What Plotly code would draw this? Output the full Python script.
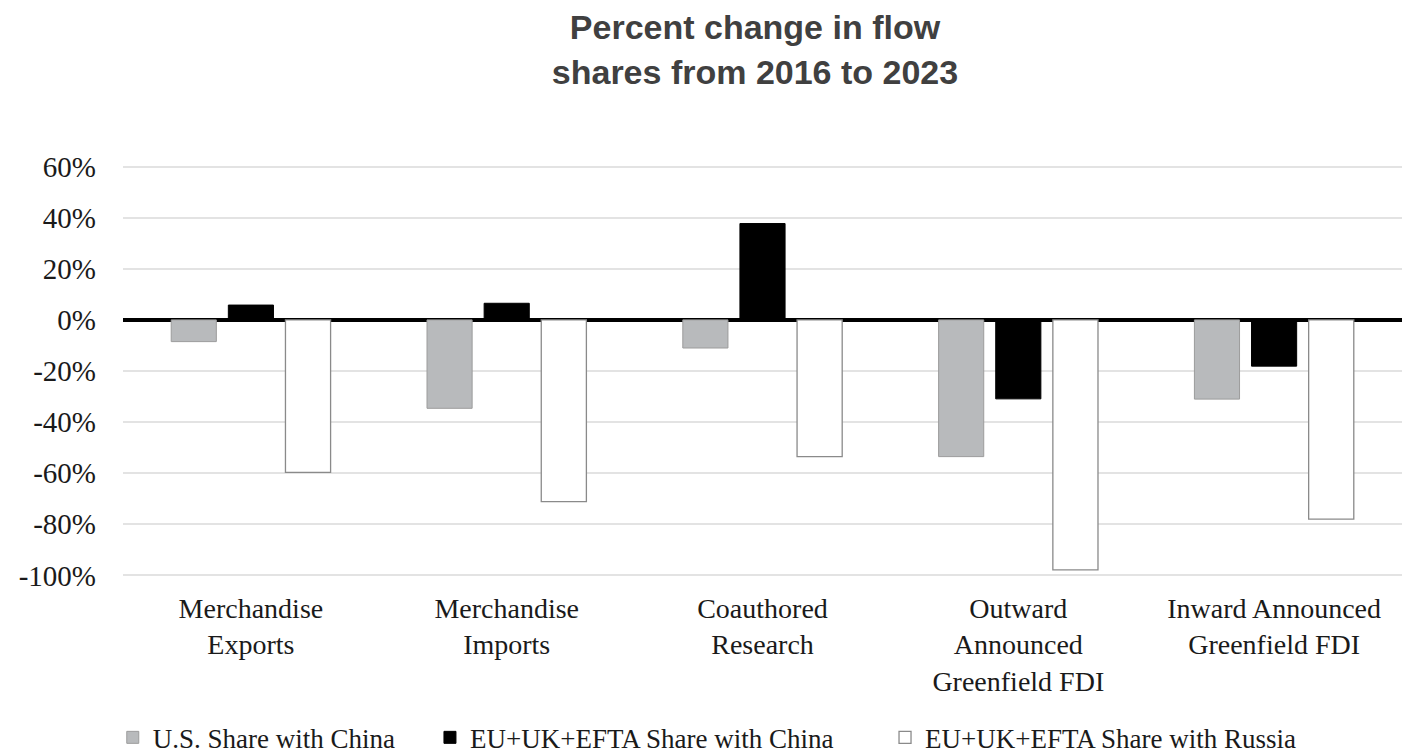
import plotly.graph_objects as go

categories = [
    "Merchandise<br>Exports",
    "Merchandise<br>Imports",
    "Coauthored<br>Research",
    "Outward<br>Announced<br>Greenfield FDI",
    "Inward Announced<br>Greenfield FDI",
]
us_china = [-8.5, -34.6, -11.0, -53.5, -31.0]
eu_china = [5.8, 6.5, 37.7, -30.9, -18.1]
eu_russia = [-59.7, -71.1, -53.5, -97.8, -78.0]
series_names = [
    "U.S. Share with China",
    "EU+UK+EFTA Share with China",
    "EU+UK+EFTA Share with Russia",
]
y_ticks = [-100, -80, -60, -40, -20, 0, 20, 40, 60]
y_ticktext = [f"{v}%" for v in y_ticks]

serif = "Liberation Serif, Times New Roman, serif"

fig = go.Figure()
fig.add_trace(go.Bar(
    x=categories, y=us_china, name=series_names[0],
    marker=dict(color="#b8babc", line=dict(color="#9c9c9c", width=1)),
    legend="legend", showlegend=True,
))
fig.add_trace(go.Bar(
    x=categories, y=eu_china, name=series_names[1],
    marker=dict(color="#000000", line=dict(color="#000000", width=1)),
    legend="legend2", showlegend=True,
))
fig.add_trace(go.Bar(
    x=categories, y=eu_russia, name=series_names[2],
    marker=dict(color="#ffffff", line=dict(color="#8a8a8a", width=1.3)),
    legend="legend3", showlegend=True,
))

leg_common = dict(
    orientation="h", yanchor="middle", y=-0.386, xanchor="left",
    font=dict(family=serif, size=27, color="#1a1a1a"),
    bgcolor="rgba(0,0,0,0)", itemwidth=30,
)

fig.update_layout(
    width=1402, height=756,
    showlegend=True,
    margin=dict(l=123, r=0, t=164, b=178, autoexpand=False),
    paper_bgcolor="white", plot_bgcolor="white",
    title=dict(
        text="Percent change in flow<br>shares from 2016 to 2023",
        font=dict(family="Liberation Sans, Arial, sans-serif", size=34, color="#404040", weight="bold"),
        xref="container", x=0.5385, xanchor="center",
        yref="container", y=0.948, yanchor="top",
    ),
    barmode="group", bargap=0.33, bargroupgap=0.21,
    legend=dict(x=-0.008, **leg_common),
    legend2=dict(x=0.240, **leg_common),
    legend3=dict(x=0.5958, **leg_common),
    xaxis=dict(
        tickfont=dict(family=serif, size=28, color="#1a1a1a"),
        showgrid=False, showline=False, ticks="",
        automargin=False, ticklabelstandoff=11,
    ),
    yaxis=dict(
        range=[-101, 61], tickvals=y_ticks, ticktext=y_ticktext,
        tickfont=dict(family=serif, size=29, color="#1a1a1a"),
        showgrid=True, gridcolor="#e3e3e3", gridwidth=1.5,
        zeroline=True, zerolinecolor="#000000", zerolinewidth=4,
        showline=False, ticks="", ticklabelstandoff=26,
        automargin=False,
    ),
)

fig.write_html(
    "out.html",
    config={"displayModeBar": False},
    post_script="document.body.style.margin='0';document.body.style.overflow='hidden';",
)
